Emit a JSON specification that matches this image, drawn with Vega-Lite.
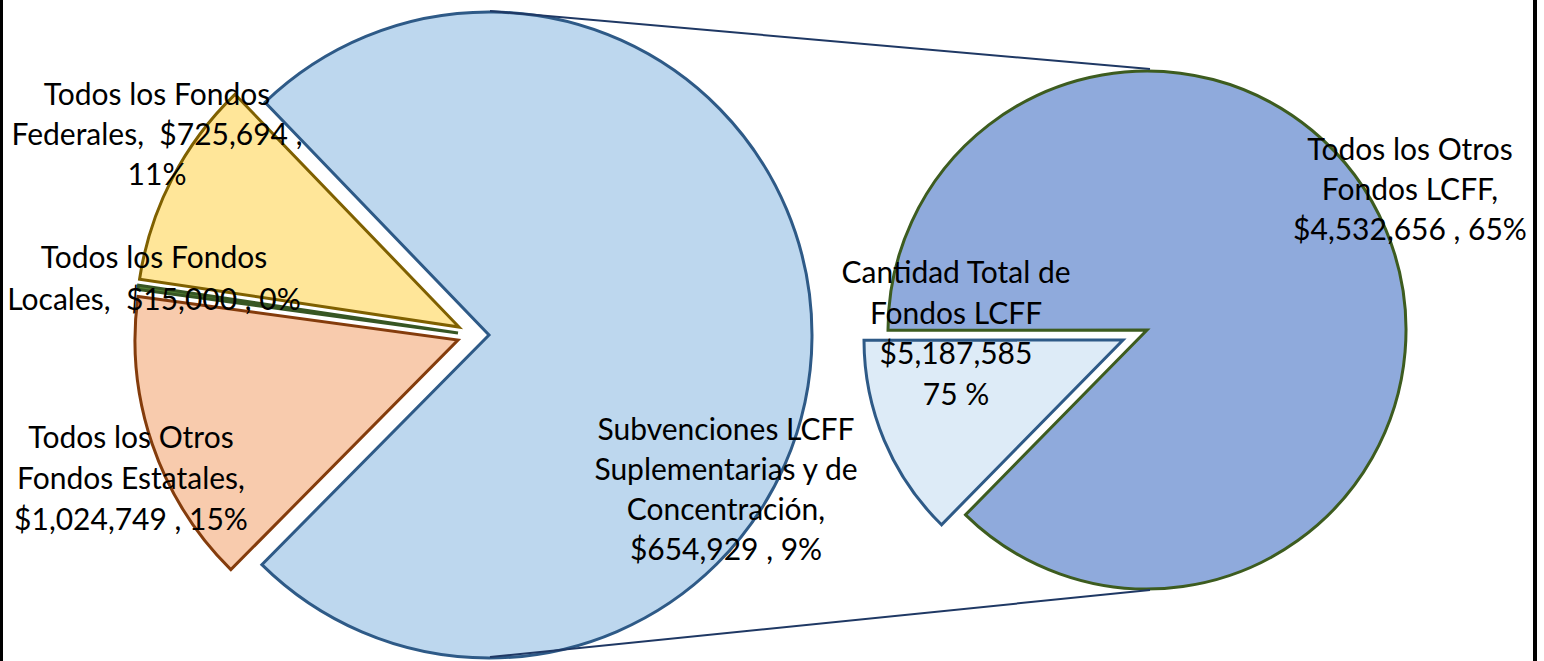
{
  "$schema": "https://vega.github.io/schema/vega-lite/v6.json",
  "width": 1544,
  "height": 661,
  "autosize": "none",
  "padding": 0,
  "background": "white",
  "config": {"view": {"stroke": null}},
  "data": {
    "values": [
      {"pie": "left", "rank": 1, "category": "Cantidad Total de Fondos LCFF", "value": 5187585, "label": "Cantidad Total de\nFondos LCFF\n$5,187,585\n75 %"},
      {"pie": "left", "rank": 2, "category": "Todos los Otros Fondos Estatales", "value": 1024749, "label": "Todos los Otros\nFondos Estatales,\n$1,024,749 , 15%"},
      {"pie": "left", "rank": 3, "category": "Todos los Fondos Locales", "value": 15000, "label": "Todos los Fondos\nLocales,\u00a0 $15,000 , 0%"},
      {"pie": "left", "rank": 4, "category": "Todos los Fondos Federales", "value": 725694, "label": "Todos los Fondos\nFederales,\u00a0 $725,694 ,\n11%"},
      {"pie": "right", "rank": 1, "category": "Subvenciones LCFF Suplementarias y de Concentración", "value": 654929, "label": "Subvenciones LCFF\nSuplementarias y de\nConcentración,\n$654,929 , 9%"},
      {"pie": "right", "rank": 2, "category": "Todos los Otros Fondos LCFF", "value": 4532656, "label": "Todos los Otros\nFondos LCFF,\n$4,532,656 , 65%"}
    ]
  },
  "resolve": {"scale": {"theta": "independent"}},
  "layer": [
    {
      "transform": [
        {"stack": "value", "groupby": ["pie"], "sort": [{"field": "rank"}], "offset": "normalize", "as": ["v0", "v1"]},
        {"filter": "datum.category === 'Cantidad Total de Fondos LCFF'"}
      ],
      "mark": {"type": "arc", "radius": 323, "strokeWidth": 3},
      "encoding": {
        "x": {"datum": 489, "type": "quantitative", "scale": {"domain": [0, 1544], "range": [0, 1544], "nice": false, "zero": false}, "axis": null},
        "y": {"datum": 335, "type": "quantitative", "scale": {"domain": [0, 661], "range": [0, 661], "nice": false, "zero": false}, "axis": null},
        "theta": {"field": "v0", "type": "quantitative", "scale": {"domain": [0, 1], "range": [5.517, 11.800]}},
        "theta2": {"field": "v1"},
        "fill": {"field": "category", "type": "nominal", "legend": null, "scale": {"domain": ["Cantidad Total de Fondos LCFF", "Todos los Otros Fondos Estatales", "Todos los Fondos Locales", "Todos los Fondos Federales", "Subvenciones LCFF Suplementarias y de Concentración", "Todos los Otros Fondos LCFF"], "range": ["#BDD7EE", "#F8CBAD", "#548235", "#FFE699", "#DDEBF7", "#8FAADC"]}},
        "stroke": {"field": "category", "type": "nominal", "legend": null, "scale": {"domain": ["Cantidad Total de Fondos LCFF", "Todos los Otros Fondos Estatales", "Todos los Fondos Locales", "Todos los Fondos Federales", "Subvenciones LCFF Suplementarias y de Concentración", "Todos los Otros Fondos LCFF"], "range": ["#2E5A87", "#843C0C", "#375623", "#7F6000", "#2E5A87", "#3D5C1F"]}}
      }
    },
    {
      "transform": [
        {"stack": "value", "groupby": ["pie"], "sort": [{"field": "rank"}], "offset": "normalize", "as": ["v0", "v1"]},
        {"filter": "datum.category === 'Todos los Otros Fondos Estatales'"}
      ],
      "mark": {"type": "arc", "radius": 323, "strokeWidth": 3},
      "encoding": {
        "x": {"datum": 458, "type": "quantitative", "axis": null},
        "y": {"datum": 340, "type": "quantitative", "axis": null},
        "theta": {"field": "v0", "type": "quantitative", "scale": {"domain": [0, 1], "range": [5.517, 11.800]}},
        "theta2": {"field": "v1"},
        "fill": {"field": "category", "type": "nominal", "legend": null},
        "stroke": {"field": "category", "type": "nominal", "legend": null}
      }
    },
    {
      "transform": [
        {"stack": "value", "groupby": ["pie"], "sort": [{"field": "rank"}], "offset": "normalize", "as": ["v0", "v1"]},
        {"filter": "datum.category === 'Todos los Fondos Locales'"}
      ],
      "mark": {"type": "arc", "radius": 323, "strokeWidth": 3},
      "encoding": {
        "x": {"datum": 458, "type": "quantitative", "axis": null},
        "y": {"datum": 333, "type": "quantitative", "axis": null},
        "theta": {"field": "v0", "type": "quantitative", "scale": {"domain": [0, 1], "range": [5.517, 11.800]}},
        "theta2": {"field": "v1"},
        "fill": {"field": "category", "type": "nominal", "legend": null},
        "stroke": {"field": "category", "type": "nominal", "legend": null}
      }
    },
    {
      "transform": [
        {"stack": "value", "groupby": ["pie"], "sort": [{"field": "rank"}], "offset": "normalize", "as": ["v0", "v1"]},
        {"filter": "datum.category === 'Todos los Fondos Federales'"}
      ],
      "mark": {"type": "arc", "radius": 323, "strokeWidth": 3},
      "encoding": {
        "x": {"datum": 459, "type": "quantitative", "axis": null},
        "y": {"datum": 327, "type": "quantitative", "axis": null},
        "theta": {"field": "v0", "type": "quantitative", "scale": {"domain": [0, 1], "range": [5.517, 11.800]}},
        "theta2": {"field": "v1"},
        "fill": {"field": "category", "type": "nominal", "legend": null},
        "stroke": {"field": "category", "type": "nominal", "legend": null}
      }
    },
    {
      "transform": [
        {"stack": "value", "groupby": ["pie"], "sort": [{"field": "rank"}], "offset": "normalize", "as": ["v0", "v1"]},
        {"filter": "datum.category === 'Todos los Otros Fondos LCFF'"}
      ],
      "mark": {"type": "arc", "radius": 259, "strokeWidth": 3},
      "encoding": {
        "x": {"datum": 1147, "type": "quantitative", "axis": null},
        "y": {"datum": 330, "type": "quantitative", "axis": null},
        "theta": {"field": "v0", "type": "quantitative", "scale": {"domain": [0, 1], "range": [3.918, 10.201]}},
        "theta2": {"field": "v1"},
        "fill": {"field": "category", "type": "nominal", "legend": null},
        "stroke": {"field": "category", "type": "nominal", "legend": null}
      }
    },
    {
      "transform": [
        {"stack": "value", "groupby": ["pie"], "sort": [{"field": "rank"}], "offset": "normalize", "as": ["v0", "v1"]},
        {"filter": "datum.category === 'Subvenciones LCFF Suplementarias y de Concentración'"}
      ],
      "mark": {"type": "arc", "radius": 259, "strokeWidth": 3},
      "encoding": {
        "x": {"datum": 1123, "type": "quantitative", "axis": null},
        "y": {"datum": 340, "type": "quantitative", "axis": null},
        "theta": {"field": "v0", "type": "quantitative", "scale": {"domain": [0, 1], "range": [3.918, 10.201]}},
        "theta2": {"field": "v1"},
        "fill": {"field": "category", "type": "nominal", "legend": null},
        "stroke": {"field": "category", "type": "nominal", "legend": null}
      }
    },
    {
      "data": {"values": [{"line": "upper"}]},
      "mark": {"type": "rule", "color": "#1F3864", "strokeWidth": 2},
      "encoding": {
        "x": {"datum": 490, "type": "quantitative", "axis": null},
        "y": {"datum": 11, "type": "quantitative", "axis": null},
        "x2": {"datum": 1150},
        "y2": {"datum": 69}
      }
    },
    {
      "data": {"values": [{"line": "lower"}]},
      "mark": {"type": "rule", "color": "#1F3864", "strokeWidth": 2},
      "encoding": {
        "x": {"datum": 490, "type": "quantitative", "axis": null},
        "y": {"datum": 657, "type": "quantitative", "axis": null},
        "x2": {"datum": 1150},
        "y2": {"datum": 590}
      }
    },
    {
      "data": {"values": [{"side": "left"}]},
      "mark": {"type": "rule", "color": "black", "strokeWidth": 3},
      "encoding": {
        "x": {"datum": 1.5, "type": "quantitative", "axis": null},
        "y": {"datum": 0, "type": "quantitative", "axis": null},
        "y2": {"datum": 661}
      }
    },
    {
      "data": {"values": [{"side": "right"}]},
      "mark": {"type": "rule", "color": "black", "strokeWidth": 4},
      "encoding": {
        "x": {"datum": 1535, "type": "quantitative", "axis": null},
        "y": {"datum": 0, "type": "quantitative", "axis": null},
        "y2": {"datum": 661}
      }
    },
    {
      "transform": [{"filter": "datum.category === 'Todos los Fondos Federales'"}],
      "mark": {"type": "text", "font": "Lato", "fontSize": 30, "lineHeight": 40, "lineBreak": "\n", "align": "center", "baseline": "alphabetic", "color": "black"},
      "encoding": {
        "x": {"datum": 157, "type": "quantitative", "axis": null},
        "y": {"datum": 105, "type": "quantitative", "axis": null},
        "text": {"field": "label", "type": "nominal"}
      }
    },
    {
      "transform": [{"filter": "datum.category === 'Todos los Fondos Locales'"}],
      "mark": {"type": "text", "font": "Lato", "fontSize": 30, "lineHeight": 42, "lineBreak": "\n", "align": "center", "baseline": "alphabetic", "color": "black"},
      "encoding": {
        "x": {"datum": 154, "type": "quantitative", "axis": null},
        "y": {"datum": 268, "type": "quantitative", "axis": null},
        "text": {"field": "label", "type": "nominal"}
      }
    },
    {
      "transform": [{"filter": "datum.category === 'Todos los Otros Fondos Estatales'"}],
      "mark": {"type": "text", "font": "Lato", "fontSize": 30, "lineHeight": 41, "lineBreak": "\n", "align": "center", "baseline": "alphabetic", "color": "black"},
      "encoding": {
        "x": {"datum": 131, "type": "quantitative", "axis": null},
        "y": {"datum": 448, "type": "quantitative", "axis": null},
        "text": {"field": "label", "type": "nominal"}
      }
    },
    {
      "transform": [{"filter": "datum.category === 'Subvenciones LCFF Suplementarias y de Concentración'"}],
      "mark": {"type": "text", "font": "Lato", "fontSize": 30, "lineHeight": 40, "lineBreak": "\n", "align": "center", "baseline": "alphabetic", "color": "black"},
      "encoding": {
        "x": {"datum": 726, "type": "quantitative", "axis": null},
        "y": {"datum": 440, "type": "quantitative", "axis": null},
        "text": {"field": "label", "type": "nominal"}
      }
    },
    {
      "transform": [{"filter": "datum.category === 'Cantidad Total de Fondos LCFF'"}],
      "mark": {"type": "text", "font": "Lato", "fontSize": 30, "lineHeight": 40.7, "lineBreak": "\n", "align": "center", "baseline": "alphabetic", "color": "black"},
      "encoding": {
        "x": {"datum": 956, "type": "quantitative", "axis": null},
        "y": {"datum": 283, "type": "quantitative", "axis": null},
        "text": {"field": "label", "type": "nominal"}
      }
    },
    {
      "transform": [{"filter": "datum.category === 'Todos los Otros Fondos LCFF'"}],
      "mark": {"type": "text", "font": "Lato", "fontSize": 30, "lineHeight": 40, "lineBreak": "\n", "align": "center", "baseline": "alphabetic", "color": "black"},
      "encoding": {
        "x": {"datum": 1410, "type": "quantitative", "axis": null},
        "y": {"datum": 160, "type": "quantitative", "axis": null},
        "text": {"field": "label", "type": "nominal"}
      }
    }
  ]
}
